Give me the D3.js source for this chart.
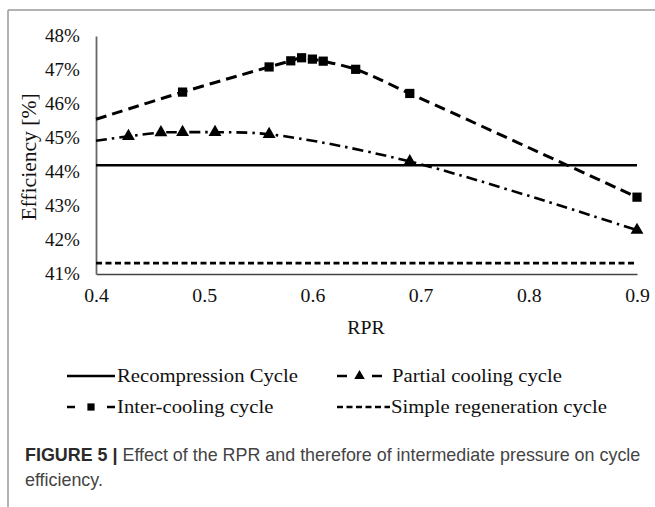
<!DOCTYPE html>
<html>
<head>
<meta charset="utf-8">
<script src="https://cdn.jsdelivr.net/npm/d3@7"></script>
<style>
  body { margin: 0; background: #fff; }
  svg { display: block; }
</style>
</head>
<body>
<div id="chart"></div>
<script>
// values
const interX = [0.40, 0.48, 0.56, 0.58, 0.59, 0.60, 0.61, 0.64, 0.69, 0.90];
const interY = [45.55, 46.35, 47.09, 47.27, 47.36, 47.32, 47.26, 47.02, 46.31, 43.26];
const partialX = [0.40, 0.43, 0.46, 0.48, 0.51, 0.56, 0.69, 0.90];
const partialY = [44.92, 45.05, 45.16, 45.17, 45.17, 45.11, 44.31, 42.29];
const recompX = [0.40, 0.90];
const recompY = [44.2, 44.2];
const simpleX = [0.40, 0.90];
const simpleY = [41.32, 41.32];

const xTicks = [0.4, 0.5, 0.6, 0.7, 0.8, 0.9];
const yTicks = [41, 42, 43, 44, 45, 46, 47, 48];

const W = 655, H = 507;
const serif = "'Liberation Serif', 'Times New Roman', serif";
const sans = "'Liberation Sans', Arial, sans-serif";
const sx = 1.1; // the figure looks stretched sideways

const svg = d3.select("#chart").append("svg")
    .attr("width", W).attr("height", H);

// page frame
svg.append("line").attr("x1", 8).attr("x2", W).attr("y1", 10).attr("y2", 10)
    .attr("stroke", "#9a9a9a").attr("stroke-width", 1.5);
svg.append("line").attr("x1", 8).attr("x2", 8).attr("y1", 10).attr("y2", H)
    .attr("stroke", "#9a9a9a").attr("stroke-width", 1.5);

const x = d3.scaleLinear().domain([0.4, 0.9]).range([96, 637]);
const y = d3.scaleLinear().domain([41, 48]).range([274, 36]);

// axes
const gx = svg.append("g").attr("transform", "translate(0,274)")
    .call(d3.axisBottom(x).tickValues(xTicks).tickSize(0).tickPadding(15)
        .tickFormat(d3.format(".1f")));
gx.select(".domain").attr("stroke", "#444").attr("stroke-width", 1.5);
gx.selectAll("text")
    .attr("font-family", serif).attr("font-size", 18).attr("fill", "#111")
    .attr("transform", `scale(${sx},1)`);

const gy = svg.append("g").attr("transform", "translate(96,0)")
    .call(d3.axisLeft(y).tickValues(yTicks).tickSize(0)
        .tickFormat(d => d + "%"));
gy.select(".domain").attr("stroke", "#666").attr("stroke-width", 1.8);
gy.selectAll("text")
    .attr("x", 0)
    .attr("font-family", serif).attr("font-size", 18).attr("fill", "#111")
    .attr("transform", `translate(-16,0) scale(1.06,1)`);

// axis titles
svg.append("text")
    .attr("transform", `translate(366,334) scale(${sx},1)`)
    .attr("text-anchor", "middle")
    .attr("font-family", serif).attr("font-size", 18).attr("fill", "#111")
    .text("RPR");

svg.append("text")
    .attr("transform", `translate(36,157) rotate(-90) scale(1.08,1)`)
    .attr("text-anchor", "middle")
    .attr("font-family", serif).attr("font-size", 20).attr("fill", "#111")
    .text("Efficiency [%]");

// series
const series = [
  { name: "Recompression Cycle", xs: recompX, ys: recompY, dash: null, width: 2.6, marker: null },
  { name: "Simple regeneration cycle", xs: simpleX, ys: simpleY, dash: "6,3.5", width: 2.6, marker: null },
  { name: "Partial cooling cycle", xs: partialX, ys: partialY, dash: "11,5,2.5,5", width: 2.6, marker: "triangle" },
  { name: "Inter-cooling cycle", xs: interX, ys: interY, dash: "11,6", width: 3, marker: "square" }
];

const line = d3.line()
    .x(d => x(d[0]))
    .y(d => y(d[1]))
    .curve(d3.curveCatmullRom);

series.forEach(s => {
  const pts = s.xs.map((v, i) => [v, s.ys[i]]);
  svg.append("path")
      .attr("d", line(pts))
      .attr("fill", "none")
      .attr("stroke", "#000")
      .attr("stroke-width", s.width)
      .attr("stroke-dasharray", s.dash);

  if (s.marker) {
    const sym = d3.symbol()
        .type(s.marker === "square" ? d3.symbolSquare : d3.symbolTriangle)
        .size(s.marker === "square" ? 85 : 72);
    // the first point sits on the axis and carries no marker
    svg.selectAll(null)
        .data(pts.slice(1))
        .enter()
        .append("path")
        .attr("d", sym)
        .attr("transform", d => `translate(${x(d[0])},${y(d[1])})`)
        .attr("fill", "#000");
  }
});

// legend
const legend = [
  { name: "Recompression Cycle", x0: 67, x1: 115, ty: 376, dash: null, marker: null, tx: 117 },
  { name: "Partial cooling cycle", x0: 337, x1: 382, ty: 376, dash: "10,25,10", marker: "triangle", tx: 392 },
  { name: "Inter-cooling cycle", x0: 67, x1: 115, ty: 407, dash: "8,32,8", marker: "square", tx: 117 },
  { name: "Simple regeneration cycle", x0: 337, x1: 390, ty: 407, dash: "6,3.5", marker: null, tx: 391 }
];

const lg = svg.append("g");
legend.forEach(l => {
  lg.append("line")
      .attr("x1", l.x0).attr("x2", l.x1).attr("y1", l.ty).attr("y2", l.ty)
      .attr("stroke", "#000").attr("stroke-width", 2.6)
      .attr("stroke-dasharray", l.dash);
  if (l.marker) {
    lg.append("path")
        .attr("d", d3.symbol()
            .type(l.marker === "square" ? d3.symbolSquare : d3.symbolTriangle)
            .size(l.marker === "square" ? 52 : 48))
        .attr("transform", `translate(${(l.x0 + l.x1) / 2},${l.ty})`)
        .attr("fill", "#000");
  }
  lg.append("text")
      .attr("transform", `translate(${l.tx},${l.ty + 6}) scale(1.15,1)`)
      .attr("font-family", serif).attr("font-size", 18).attr("fill", "#111")
      .text(l.name);
});

// caption
const cap = svg.append("text")
    .attr("font-family", sans)
    .attr("font-size", 17.9).attr("fill", "#444");
cap.append("tspan").attr("x", 25).attr("y", 461)
    .attr("font-weight", "bold").attr("fill", "#2a2a2a").text("FIGURE 5 | ");
cap.append("tspan")
    .text("Effect of the RPR and therefore of intermediate pressure on cycle");
svg.append("text")
    .attr("x", 25).attr("y", 486)
    .attr("font-family", sans)
    .attr("font-size", 17.9).attr("fill", "#444")
    .text("efficiency.");
</script>
</body>
</html>
